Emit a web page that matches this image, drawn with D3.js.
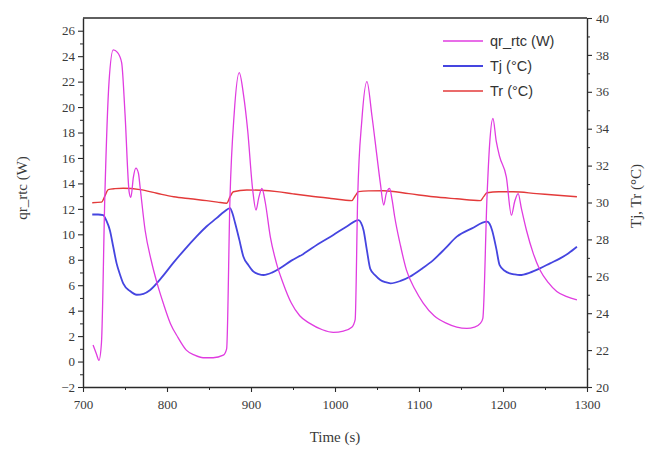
<!DOCTYPE html>
<html>
<head>
<meta charset="utf-8">
<script src="https://cdn.jsdelivr.net/npm/d3@7"></script>
<style>
  html, body { margin: 0; padding: 0; background: #fff; }
  svg { display: block; }
  .tick text { font-family: "Liberation Serif", "Times New Roman", serif; }
</style>
</head>
<body>
<svg id="chart" width="647" height="451"></svg>
<script>
// Reflux heat flow (left axis) and jacket / reactor temperatures (right axis)
const qrTime = [712, 716, 719, 722, 726, 731, 736, 741, 746, 750, 755, 757, 760, 763, 766, 768, 774, 781, 788, 796, 804, 813, 823, 833, 843, 855, 867, 871,
  875, 880, 886, 891, 896, 902, 906, 909, 913, 917, 923, 930, 938, 948, 958, 970, 985, 998, 1010, 1020, 1024,
  1027, 1032, 1038, 1044, 1050, 1054, 1058, 1061, 1065, 1068, 1071, 1078, 1085, 1095, 1105, 1118, 1133, 1145, 1157, 1166, 1173, 1176,
  1181, 1184, 1188, 1192, 1196, 1204, 1210, 1214, 1218, 1222, 1228, 1236, 1244, 1254, 1264, 1276, 1288];
const qrValue = [1.3, 0.6, 0.1, 1.5, 13, 22, 24.5, 24.3, 23.5, 19.5, 13.3, 12.9, 14.5, 15.2, 14.8, 13.7, 10.3, 8.0, 6.2, 4.5, 3.0, 1.9, 0.9, 0.5, 0.3, 0.3, 0.5, 1.0,
  12.9, 19.5, 22.7, 21.0, 18.2, 13.5, 11.9, 12.8, 13.6, 12.5, 9.8, 7.8, 6.2, 4.6, 3.6, 3.0, 2.5, 2.3, 2.4, 2.7, 3.3,
  12.9, 19.0, 22.0, 19.3, 16.1, 14.0, 12.3, 13.2, 13.6, 12.7, 11.4, 9.1, 7.2, 5.7, 4.6, 3.6, 3.0, 2.7, 2.6, 2.7, 3.0, 3.4,
  13.0, 17.0, 19.1, 17.3, 16.1, 14.5, 11.5, 12.6, 13.2, 12.0, 10.3, 8.5, 7.2, 6.2, 5.5, 5.1, 4.85];

const tjTime = [711, 718, 724, 728, 732, 736, 740, 744, 748, 756, 764, 772, 780, 793, 807, 821, 835, 847, 859, 868, 875,
  878, 881, 886, 891, 897, 903, 909, 915, 925, 935, 948, 962, 980, 998, 1014, 1028,
  1031, 1034, 1038, 1042, 1048, 1054, 1060, 1066, 1078, 1089, 1103, 1117, 1131, 1145, 1163, 1181,
  1184, 1187, 1192, 1196, 1202, 1208, 1214, 1220, 1232, 1244, 1256, 1268, 1278, 1288];
const tjValue = [29.35, 29.35, 29.32, 29.0, 28.5, 27.6, 26.7, 26.1, 25.6, 25.2, 25.0, 25.05, 25.26, 25.9, 26.7, 27.45, 28.15, 28.7, 29.15, 29.5, 29.7,
  29.4, 28.9, 28.0, 27.06, 26.6, 26.25, 26.12, 26.07, 26.2, 26.45, 26.85, 27.2, 27.75, 28.24, 28.7, 29.05,
  28.9, 28.5, 27.4, 26.4, 26.05, 25.8, 25.68, 25.62, 25.75, 25.98, 26.4, 26.88, 27.5, 28.15, 28.6, 28.96,
  28.85, 28.5, 27.5, 26.6, 26.3, 26.16, 26.1, 26.07, 26.2, 26.43, 26.7, 26.97, 27.25, 27.6];

const trTime = [711, 722, 726, 730, 738, 748, 768, 788, 808, 828, 847, 860, 871, 875, 879, 895, 912, 931, 950, 970, 995, 1020, 1024, 1028,
  1040, 1058, 1088, 1117, 1145, 1173, 1177, 1181, 1195, 1212, 1240, 1265, 1288];
const trValue = [29.99, 30.02, 30.35, 30.7, 30.75, 30.77, 30.7, 30.5, 30.31, 30.2, 30.1, 30.02, 29.96, 30.3, 30.58, 30.68, 30.66, 30.59, 30.47, 30.35, 30.22, 30.1, 30.35, 30.59,
  30.63, 30.64, 30.48, 30.31, 30.2, 30.1, 30.32, 30.53, 30.58, 30.58, 30.48, 30.39, 30.31];

const timeTicks = [700, 800, 900, 1000, 1100, 1200, 1300];
const qrTicks = [-2, 0, 2, 4, 6, 8, 10, 12, 14, 16, 18, 20, 22, 24, 26];
const tempTicks = [20, 22, 24, 26, 28, 30, 32, 34, 36, 38, 40];
const legendLabels = ["qr_rtc (W)", "Tj (°C)", "Tr (°C)"];

const colors = { qr: "#e03ce0", tj: "#4545e0", tr: "#e33a3a" };

const svg = d3.select("#chart");
const plotLeft = 83, plotRight = 587, plotTop = 18, plotBottom = 387;

const x = d3.scaleLinear().domain([700, 1300]).range([plotLeft, plotRight]);
const yL = d3.scaleLinear().domain([-2, 27]).range([plotBottom, plotTop]);
const yR = d3.scaleLinear().domain([20, 40]).range([plotBottom, plotTop]);

const serif = "Liberation Serif, Times New Roman, serif";
const sans = "Liberation Sans, Arial, sans-serif";
const axisColor = "#2a2a2a";
const textColor = "#3a3a3a";

function styleAxis(g) {
  g.attr("font-family", serif).attr("font-size", 13);
  g.selectAll("path.domain").attr("stroke", axisColor).attr("stroke-width", 1.4);
  g.selectAll(".tick line").attr("stroke", axisColor).attr("stroke-width", 1.1);
  g.selectAll(".tick text").attr("fill", textColor);
}

// minor ticks
const gMinor = svg.append("g");
gMinor.append("g").attr("transform", `translate(0,${plotBottom})`)
  .call(d3.axisBottom(x).tickValues(d3.range(750, 1300, 100)).tickSize(3).tickFormat(""))
  .call(g => g.select(".domain").remove())
  .selectAll("line").attr("stroke", axisColor);
gMinor.append("g").attr("transform", `translate(${plotLeft},0)`)
  .call(d3.axisLeft(yL).tickValues(d3.range(-1, 27, 2)).tickSize(3).tickFormat(""))
  .call(g => g.select(".domain").remove())
  .selectAll("line").attr("stroke", axisColor);
gMinor.append("g").attr("transform", `translate(${plotRight},0)`)
  .call(d3.axisRight(yR).tickValues(d3.range(21, 40, 2)).tickSize(3).tickFormat(""))
  .call(g => g.select(".domain").remove())
  .selectAll("line").attr("stroke", axisColor);

// top frame line
svg.append("line").attr("x1", plotLeft).attr("x2", plotRight).attr("y1", plotTop).attr("y2", plotTop)
  .attr("stroke", axisColor).attr("stroke-width", 1.4);

svg.append("g").attr("transform", `translate(0,${plotBottom})`)
  .call(d3.axisBottom(x).tickValues(timeTicks).tickSize(5).tickPadding(8).tickSizeOuter(0).tickFormat(d3.format("d")))
  .call(styleAxis);
svg.append("g").attr("transform", `translate(${plotLeft},0)`)
  .call(d3.axisLeft(yL).tickValues(qrTicks).tickSize(5).tickPadding(3).tickSizeOuter(0).tickFormat(d3.format("d")))
  .call(styleAxis);
svg.append("g").attr("transform", `translate(${plotRight},0)`)
  .call(d3.axisRight(yR).tickValues(tempTicks).tickSize(5).tickPadding(4).tickSizeOuter(0).tickFormat(d3.format("d")))
  .call(styleAxis);

// series
const lineL = d3.line().x(d => x(d[0])).y(d => yL(d[1])).curve(d3.curveMonotoneX);
const lineR = d3.line().x(d => x(d[0])).y(d => yR(d[1])).curve(d3.curveMonotoneX);

svg.append("path").datum(d3.zip(trTime, trValue)).attr("d", lineR)
  .attr("fill", "none").attr("stroke", colors.tr).attr("stroke-width", 1.4);
svg.append("path").datum(d3.zip(tjTime, tjValue)).attr("d", lineR)
  .attr("fill", "none").attr("stroke", colors.tj).attr("stroke-width", 1.8);
svg.append("path").datum(d3.zip(qrTime, qrValue)).attr("d", lineL)
  .attr("fill", "none").attr("stroke", colors.qr).attr("stroke-width", 1.3);

// axis titles
svg.append("text").attr("x", 335).attr("y", 442).attr("text-anchor", "middle")
  .attr("font-family", serif).attr("font-size", 15).attr("fill", textColor).text("Time (s)");
svg.append("text").attr("transform", "translate(27,188) rotate(-90)").attr("text-anchor", "middle")
  .attr("font-family", serif).attr("font-size", 15).attr("fill", textColor).text("qr_rtc (W)");
svg.append("text").attr("transform", "translate(641,196) rotate(-90)").attr("text-anchor", "middle")
  .attr("font-family", serif).attr("font-size", 15).attr("fill", textColor).text("Tj, Tr (°C)");

// legend
const legendColors = [colors.qr, colors.tj, colors.tr];
const lg = svg.append("g");
legendLabels.forEach((label, i) => {
  const yy = 41 + i * 25;
  lg.append("line").attr("x1", 443).attr("x2", 483).attr("y1", yy).attr("y2", yy)
    .attr("stroke", legendColors[i]).attr("stroke-width", i === 1 ? 1.8 : 1.4);
  lg.append("text").attr("x", 490).attr("y", yy + 5)
    .attr("font-family", sans).attr("font-size", 14.5).attr("fill", "#333").text(label);
});
</script>
</body>
</html>
